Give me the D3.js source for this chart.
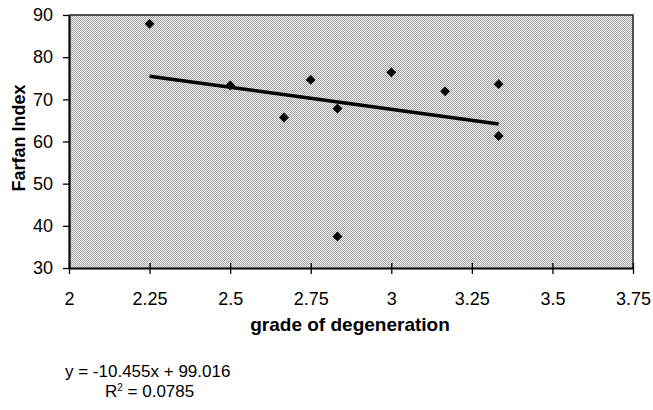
<!DOCTYPE html>
<html><head><meta charset="utf-8">
<script src="https://cdn.jsdelivr.net/npm/d3@7"></script>
<style>body{margin:0;background:#fff}svg{display:block}text{font-family:"Liberation Sans",Arial,sans-serif}</style>
</head><body><svg id="c" width="653" height="410"></svg>
<script>
const grade = [2.25, 2.5, 2.667, 2.75, 2.833, 2.833, 3, 3.167, 3.333, 3.333];
const farfan = [87.9, 73.3, 65.7, 74.6, 67.8, 37.5, 76.4, 71.9, 73.6, 61.3];
const xTicks = [2, 2.25, 2.5, 2.75, 3, 3.25, 3.5, 3.75];
const yTicks = [30, 40, 50, 60, 70, 80, 90];
const slope = -10.455, intercept = 99.016, r2 = "0.0785";

const svg = d3.select("#c");
const L = 69, T = 15, R = 633, B = 268;
const x = d3.scaleLinear().domain([2, 3.75]).range([L, R]);
const y = d3.scaleLinear().domain([30, 90]).range([B, T]);

const defs = svg.append("defs");
const pat = defs.append("pattern").attr("id","dots").attr("width",2).attr("height",2).attr("patternUnits","userSpaceOnUse");
pat.append("rect").attr("width",2).attr("height",2).attr("fill","#ececec");
pat.append("rect").attr("width",1).attr("height",1).attr("fill","#a8a8a8");
pat.append("rect").attr("x",1).attr("y",1).attr("width",1).attr("height",1).attr("fill","#a8a8a8");

svg.append("rect").attr("x",L).attr("y",T).attr("width",R-L).attr("height",B-T).attr("fill","url(#dots)");
// top & right border
svg.append("path").attr("d",`M${L},${T}H${R}V${B}`).attr("fill","none").attr("stroke","#222").attr("stroke-width",1.5);

// axes
const xa = svg.append("g").attr("transform",`translate(0,${B})`)
  .call(d3.axisBottom(x).tickValues(xTicks).tickSize(6).tickSizeOuter(0).tickFormat(d3.format("")));
xa.select(".domain").attr("stroke","#000").attr("stroke-width",2.2);
xa.selectAll(".tick line").attr("y1",-5).attr("stroke","#000").attr("stroke-width",1.3);
xa.selectAll(".tick text").attr("y",37).attr("dy",null).attr("font-size",18).attr("fill","#000").attr("font-family","Liberation Sans, Arial, sans-serif");

const ya = svg.append("g").attr("transform",`translate(${L},0)`)
  .call(d3.axisLeft(y).tickValues(yTicks).tickSize(6).tickSizeOuter(0));
ya.select(".domain").attr("stroke","#000").attr("stroke-width",2.2);
ya.selectAll(".tick line").attr("stroke","#000").attr("stroke-width",1.3);
ya.selectAll(".tick text").attr("x",-16).attr("font-size",18).attr("fill","#000").attr("font-family","Liberation Sans, Arial, sans-serif");

// trendline
const xmin = d3.min(grade), xmax = d3.max(grade);
svg.append("line").attr("x1",x(xmin)).attr("y1",y(slope*xmin+intercept))
  .attr("x2",x(xmax)).attr("y2",y(slope*xmax+intercept))
  .attr("stroke","#000").attr("stroke-width",3.5);

// points
svg.append("g").selectAll("path").data(grade.map((g,i)=>[g,farfan[i]])).join("path")
  .attr("transform",d=>`translate(${x(d[0])},${y(d[1])})`)
  .attr("d",d3.symbol(d3.symbolDiamond2, 62))
  .attr("fill","#000");

// titles
svg.append("text").attr("x",350).attr("y",331).attr("text-anchor","middle")
  .attr("font-size",19).attr("font-weight","bold").text("grade of degeneration");
svg.append("text").attr("transform",`translate(25,138) rotate(-90)`).attr("text-anchor","middle")
  .attr("font-size",18).attr("font-weight","bold").text("Farfan Index");

svg.append("text").attr("x",65).attr("y",377).attr("font-size",17)
  .text(`y = ${slope}x + ${intercept.toFixed(3)}`);
const rt = svg.append("text").attr("x",105).attr("y",397).attr("font-size",17);
rt.append("tspan").text("R");
rt.append("tspan").attr("font-size",10).attr("dy",-6.5).text("2");
rt.append("tspan").attr("dy",6.5).text(` = ${r2}`);
</script></body></html>
